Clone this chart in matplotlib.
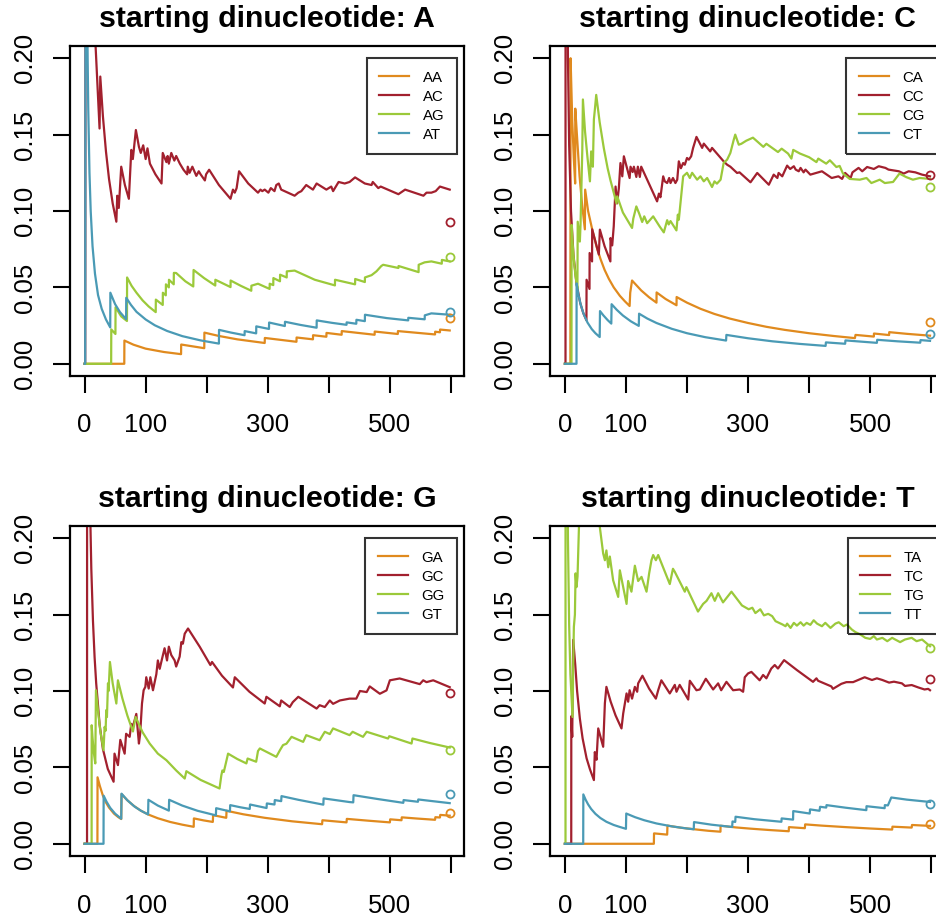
import matplotlib
matplotlib.use("Agg")
import matplotlib.pyplot as plt

plt.rcParams['font.family'] = ['Liberation Sans', 'DejaVu Sans']

# running frequency curves, (position, frequency)
aa = [(0, 0), (65, 0), (65.2, 0.0152), (80, 0.0125), (100, 0.0099), (130, 0.0077), (158, 0.0063),
      (158.2, 0.0126), (196, 0.0102), (196.2, 0.0204), (220, 0.0182), (250, 0.016), (295, 0.0136),
      (295.2, 0.0169), (347, 0.0144), (347.2, 0.0172), (374, 0.016), (374.2, 0.0187), (396, 0.0177),
      (396.2, 0.0202), (421, 0.019), (421.2, 0.0214), (475, 0.019), (475.2, 0.0211), (513, 0.0195),
      (513.2, 0.0214), (574, 0.0192), (574.2, 0.021), (582, 0.0206), (582.2, 0.0224), (598, 0.0218)]
ac = [(0, 0), (1, 0), (2, 0.5), (10, 0.4), (18, 0.208), (24.5, 0.154), (25.7, 0.188), (30, 0.162),
      (35, 0.139), (40, 0.121), (46, 0.105), (52, 0.093), (53.5, 0.11), (56, 0.102), (60, 0.129),
      (66, 0.117), (72.5, 0.108), (74, 0.12), (76.5, 0.14), (79, 0.134), (84, 0.153), (89, 0.142),
      (92, 0.138), (96, 0.143), (100, 0.134), (103, 0.141), (107, 0.131), (116, 0.124), (126, 0.118),
      (128, 0.138), (134, 0.132), (136, 0.136), (138, 0.131), (142, 0.138), (147, 0.133), (150, 0.136),
      (156, 0.131), (162, 0.127), (168, 0.124), (169, 0.129), (172, 0.125), (176.5, 0.129), (183, 0.123),
      (187, 0.126), (190, 0.124), (197, 0.12), (199, 0.124), (204, 0.127), (220, 0.117), (239, 0.108),
      (243, 0.114), (246, 0.112), (249, 0.115), (253, 0.126), (268, 0.118), (284, 0.112), (288, 0.114),
      (291, 0.113), (295, 0.114), (301, 0.112), (305, 0.115), (311, 0.113), (314, 0.117), (318, 0.118),
      (322, 0.114), (344, 0.11), (350, 0.112), (355, 0.113), (363, 0.117), (374, 0.114), (380, 0.118),
      (396, 0.114), (404, 0.116), (407, 0.113), (416, 0.119), (426, 0.118), (434, 0.119), (443, 0.122),
      (459, 0.118), (470, 0.117), (472, 0.119), (481, 0.115), (485, 0.116), (514, 0.111), (525, 0.114),
      (555, 0.11), (560, 0.112), (568, 0.112), (575, 0.113), (582, 0.116), (598, 0.114)]
ag = [(0, 0), (43.5, 0), (43.7, 0.0225), (50.5, 0.0195), (50.7, 0.037), (60, 0.031), (69.4, 0.028),
      (69.6, 0.0565), (77, 0.051), (85, 0.0465), (95, 0.0415), (105, 0.0375), (116.5, 0.0338),
      (116.7, 0.042), (128, 0.0385), (128.2, 0.0465), (133, 0.0448), (133.2, 0.052), (138, 0.05),
      (138.2, 0.055), (146, 0.052), (146.2, 0.0595), (150, 0.0594), (165, 0.054), (178, 0.0506),
      (178.5, 0.0614), (196, 0.056), (214, 0.0512), (214.2, 0.055), (239, 0.0502), (239.2, 0.0545),
      (256, 0.051), (273, 0.0478), (273.2, 0.0511), (284, 0.0524), (303, 0.049), (303.2, 0.0524),
      (309, 0.0515), (309.2, 0.0561), (320, 0.054), (320.2, 0.0583), (331, 0.0565), (331.2, 0.0605),
      (344, 0.061), (377, 0.055), (410, 0.0513), (410.2, 0.055), (443, 0.052), (443.2, 0.0555),
      (459, 0.0535), (459.2, 0.0565), (470, 0.058), (478, 0.0605), (486, 0.064), (489, 0.0648),
      (514, 0.0627), (514.2, 0.064), (547, 0.06), (547.2, 0.0648), (557, 0.0664), (568, 0.067),
      (585, 0.0655), (585.2, 0.068), (598, 0.067)]
at = [(0, 0), (1, 0), (2, 0.5), (3, 0.333), (4, 0.25), (5, 0.2), (6, 0.167), (8, 0.125), (10, 0.1),
      (13, 0.077), (17, 0.059), (22, 0.045), (28, 0.036), (35, 0.029), (42, 0.0238), (42.2, 0.0465),
      (50, 0.039), (58, 0.0338), (68, 0.0292), (68.2, 0.0432), (76, 0.0385), (85, 0.034), (100, 0.029),
      (115, 0.0252), (135, 0.0215), (160, 0.0181), (190, 0.0153), (220, 0.0132), (220.2, 0.0222),
      (240, 0.0204), (262, 0.0187), (262.2, 0.0214), (281, 0.0199), (281.2, 0.0245), (302, 0.0228),
      (302.2, 0.027), (328, 0.0247), (328.2, 0.0275), (354, 0.0254), (380, 0.0236), (380.2, 0.0284),
      (405, 0.0268), (429, 0.0255), (429.2, 0.0271), (445, 0.0262), (445.2, 0.0288), (459, 0.0279),
      (459.2, 0.0321), (495, 0.0299), (530, 0.0284), (530.2, 0.0301), (557, 0.0291), (557.2, 0.0317),
      (568, 0.033), (598, 0.0321)]

ca = [(0, 0), (9, 0), (9.3, 0.2), (12, 0.16), (14.5, 0.135), (16.8, 0.118), (17, 0.167), (20, 0.148),
      (24, 0.123), (28, 0.105), (32.7, 0.088), (33.2, 0.114), (38, 0.1), (44.7, 0.088), (52, 0.0765),
      (58.4, 0.0685), (65, 0.0615), (72, 0.0556), (80, 0.05), (90, 0.0445), (98, 0.041), (106, 0.0378),
      (107, 0.0465), (110, 0.0545), (125, 0.048), (138, 0.0435), (150, 0.04), (150.2, 0.0467),
      (165, 0.0424), (182.8, 0.0383), (183, 0.0437), (200, 0.04), (222, 0.036), (245, 0.0326),
      (270, 0.0296), (300, 0.0267), (330, 0.0242), (360, 0.0222), (400, 0.02), (440, 0.0182),
      (475, 0.0168), (476, 0.0189), (506, 0.0178), (506.2, 0.0198), (531, 0.0188), (531.2, 0.0207),
      (560, 0.0196), (598, 0.0184)]
cc = [(0, 0), (1, 0), (1.2, 0.8), (3, 0.333), (5, 0.2), (7, 0.143), (10, 0.1), (14, 0.0714),
      (19, 0.0526), (25, 0.04), (30, 0.0333), (35.3, 0.0285), (35.5, 0.055), (40.3, 0.049),
      (40.5, 0.0725), (44.5, 0.067), (44.7, 0.088), (50, 0.08), (55.6, 0.0715), (57.3, 0.0878),
      (65, 0.077), (74.5, 0.067), (74.7, 0.0823), (77.5, 0.0775), (80, 0.09), (83, 0.116),
      (85.6, 0.105), (88.4, 0.115), (91, 0.1314), (94, 0.1227), (96.6, 0.1358), (106, 0.1216),
      (107.5, 0.129), (111, 0.1255), (113, 0.129), (117, 0.1223), (119.5, 0.129), (122.7, 0.1223),
      (125, 0.129), (151, 0.1063), (154, 0.1114), (156.5, 0.109), (161, 0.1227), (163.6, 0.1194),
      (167.5, 0.1183), (170.8, 0.1216), (173, 0.1183), (177, 0.1216), (181, 0.1183), (184, 0.1205),
      (186.6, 0.1325), (190, 0.128), (193.7, 0.1314), (196.4, 0.1303), (200, 0.1347), (203, 0.1336),
      (206.8, 0.1358), (210, 0.1413), (215.5, 0.1485), (224.8, 0.1413), (227.5, 0.1441), (238, 0.139),
      (241, 0.1413), (260, 0.1325), (265.7, 0.1303), (271, 0.129), (282, 0.1249), (286, 0.1253),
      (304, 0.1188), (315, 0.1249), (334, 0.1172), (342, 0.1238), (348, 0.1216), (350, 0.1249),
      (356, 0.1227), (364, 0.1297), (369, 0.1275), (375, 0.1293), (378, 0.1271), (383, 0.126),
      (386, 0.1282), (391, 0.1253), (394, 0.1271), (402, 0.1238), (421, 0.126), (437, 0.1216),
      (448, 0.1227), (454, 0.121), (459, 0.1249), (468, 0.1216), (471, 0.1253), (481, 0.1282),
      (487, 0.126), (495, 0.1288), (506, 0.1275), (514, 0.1293), (525, 0.1282), (530, 0.1271),
      (547, 0.126), (555, 0.1245), (563, 0.126), (574, 0.1253), (585, 0.1238), (598, 0.1227)]
cg = [(0, 0), (10.8, 0), (11, 0.0909), (13, 0.077), (15, 0.0667), (17.5, 0.057), (20.5, 0.049),
      (21, 0.093), (24.5, 0.08), (25.6, 0.091), (28.5, 0.14), (29.5, 0.173), (33, 0.152), (37, 0.135),
      (41, 0.1194), (43, 0.139), (45.8, 0.129), (47.5, 0.16), (49, 0.166), (51.3, 0.176), (57, 0.158),
      (63.8, 0.141), (70, 0.128), (74.7, 0.12), (80, 0.112), (84.6, 0.105), (85.7, 0.1096), (95, 0.099),
      (110, 0.0889), (112, 0.095), (117, 0.103), (122, 0.098), (126.6, 0.0928), (130, 0.0965),
      (134.7, 0.092), (144.6, 0.0965), (155, 0.09), (162, 0.086), (167.5, 0.094), (170, 0.0912),
      (173, 0.0934), (182.7, 0.0873), (185, 0.0976), (186.6, 0.0943), (193.7, 0.1227), (200, 0.125),
      (204.6, 0.1216), (208.4, 0.125), (216.6, 0.1205), (222, 0.1227), (227.5, 0.1194), (233, 0.1216),
      (241, 0.1157), (245, 0.1194), (249, 0.1179), (255, 0.1205), (260, 0.1314), (265.7, 0.1336),
      (271, 0.138), (276.6, 0.1467), (279, 0.15), (284.8, 0.1434), (289, 0.144), (297, 0.146),
      (308, 0.148), (325, 0.142), (330, 0.144), (349, 0.1386), (355, 0.1408), (365.5, 0.1376),
      (371, 0.1343), (374, 0.14), (385, 0.1376), (400, 0.1352), (412, 0.132), (415, 0.1343),
      (428, 0.131), (434, 0.1332), (444.6, 0.1288), (450, 0.1295), (455.5, 0.1245), (466.5, 0.121),
      (483, 0.1205), (494, 0.1216), (502, 0.1183), (515.6, 0.1205), (524, 0.1183), (537.5, 0.119),
      (548, 0.1245), (559, 0.1222), (570, 0.1205), (581, 0.1216), (598, 0.121)]
ct = [(0, 0), (19, 0), (19.2, 0.0526), (22, 0.0455), (26, 0.0385), (31, 0.0323), (37, 0.027),
      (44, 0.0227), (50, 0.02), (57, 0.0175), (57.5, 0.0345), (63, 0.0317), (70, 0.0286), (76, 0.0263),
      (76.5, 0.039), (85, 0.0353), (95, 0.0316), (108, 0.0278), (121, 0.0248), (121.5, 0.0328),
      (135, 0.0296), (150, 0.0267), (175, 0.0229), (200, 0.02), (230, 0.0174), (264, 0.0152),
      (264.5, 0.0189), (300, 0.0167), (340, 0.0147), (385, 0.013), (427, 0.0117), (427.5, 0.014),
      (459, 0.0131), (459.5, 0.0153), (485, 0.0145), (511, 0.0137), (511.5, 0.0157), (545, 0.0147),
      (582, 0.0138), (582.5, 0.0155), (598, 0.015)]

ga = [(0, 0), (21, 0), (21.2, 0.0435), (25, 0.0378), (30, 0.0315), (35, 0.027), (40, 0.0237),
      (48, 0.0198), (55, 0.0175), (60, 0.0162), (60.5, 0.0325), (70, 0.0285), (80, 0.025), (92, 0.0217),
      (104, 0.0192), (120, 0.0167), (140, 0.0143), (160, 0.0125), (178.7, 0.0111), (179, 0.0166),
      (195, 0.0153), (210, 0.0143), (210.5, 0.0187), (222, 0.0178), (232, 0.017), (232.5, 0.0216),
      (260, 0.0193), (295, 0.017), (340, 0.0147), (389, 0.0128), (389.5, 0.0154), (429, 0.014),
      (429.5, 0.0163), (465, 0.0151), (500, 0.014), (500.5, 0.016), (519, 0.0154), (519.5, 0.0173),
      (545, 0.0165), (574, 0.0157), (574.5, 0.0174), (582, 0.0172), (582.5, 0.0189), (598, 0.0184)]
gc = [(0, 0), (4, 0), (4.2, 0.5), (7, 0.286), (9.6, 0.208), (11, 0.18), (13.7, 0.146), (16.4, 0.122),
      (19, 0.105), (24.6, 0.078), (30, 0.062), (38, 0.049), (47.5, 0.0406), (49, 0.059), (54.6, 0.0515),
      (58.5, 0.068), (65.6, 0.059), (68, 0.072), (73.8, 0.07), (76.5, 0.0785), (79, 0.0765), (84.7, 0.085),
      (89, 0.0656), (91, 0.072), (94, 0.0918), (96.7, 0.1005), (99.5, 0.1027), (101, 0.109), (105, 0.1016),
      (107.7, 0.109), (112, 0.1005), (117.5, 0.111), (120, 0.12), (123, 0.1145), (126.8, 0.121),
      (131, 0.128), (135, 0.12), (138, 0.129), (142, 0.1235), (147.5, 0.12), (150, 0.116),
      (155.7, 0.1225), (158.5, 0.132), (161, 0.131), (164, 0.1375), (169.4, 0.1409), (188.5, 0.129),
      (206, 0.117), (208.7, 0.119), (225, 0.11), (243, 0.1023), (246, 0.109), (270, 0.0995),
      (295, 0.0918), (297.8, 0.0962), (319.7, 0.09), (322, 0.0938), (336, 0.0895), (341, 0.0927),
      (350, 0.0962), (380, 0.0885), (385, 0.0907), (393.4, 0.0895), (401.6, 0.0938), (407, 0.0916),
      (418, 0.0938), (434, 0.095), (445, 0.095), (451, 0.1), (462, 0.0993), (467, 0.103),
      (483.6, 0.0982), (494.5, 0.1004), (500, 0.107), (516, 0.1082), (549, 0.1045), (554.6, 0.107),
      (560, 0.1058), (571, 0.107), (598, 0.1025)]
gg = [(0, 0), (11.5, 0), (11.6, 0.0776), (13, 0.0695), (15, 0.06), (17.5, 0.0526), (18.6, 0.1005),
      (22, 0.087), (26, 0.073), (31, 0.0613), (32.8, 0.0765), (34.4, 0.074), (35.5, 0.0875),
      (36.6, 0.083), (38.3, 0.105), (39.3, 0.1), (41.5, 0.119), (46, 0.105), (52, 0.0918), (54.6, 0.107),
      (62, 0.095), (70, 0.084), (76.5, 0.0765), (79.2, 0.0735), (83.6, 0.083), (95, 0.073),
      (106.6, 0.0656), (120, 0.059), (134, 0.0547), (150, 0.048), (164, 0.0427), (166.7, 0.0475),
      (190, 0.0418), (221, 0.0362), (224, 0.0449), (225.7, 0.048), (228, 0.047), (235, 0.059),
      (250, 0.0555), (265, 0.0526), (267, 0.0558), (281, 0.0537), (284, 0.0607), (287, 0.0624),
      (314, 0.0569), (320, 0.0613), (325, 0.0646), (330.6, 0.0655), (339, 0.07), (358, 0.0667),
      (363, 0.0711), (385, 0.0678), (393.4, 0.0733), (401.6, 0.0718), (407, 0.0755), (434, 0.0711),
      (439, 0.0733), (456, 0.07), (462, 0.0733), (497, 0.0689), (499, 0.0704), (535.5, 0.0656),
      (537, 0.0689), (565, 0.066), (598, 0.063)]
gt = [(0, 0), (31, 0), (31.2, 0.0315), (36, 0.0275), (42, 0.0235), (50, 0.0197), (60, 0.0164),
      (60.5, 0.0328), (70, 0.0285), (82, 0.0243), (92, 0.0217), (104, 0.0192), (104.5, 0.0288),
      (120, 0.025), (138, 0.0217), (138.5, 0.0288), (160, 0.025), (185, 0.0216), (215, 0.0186),
      (215.5, 0.0233), (238, 0.0212), (238.5, 0.0253), (255, 0.0239), (270.5, 0.0228), (271, 0.0257),
      (298, 0.0234), (298.5, 0.0264), (311, 0.0257), (311.5, 0.0286), (322, 0.0279), (322.5, 0.0312),
      (350, 0.0288), (391, 0.0256), (391.5, 0.0297), (434, 0.0273), (440, 0.0271), (440.5, 0.0318),
      (480, 0.0293), (522, 0.0268), (522.5, 0.0286), (546, 0.0275), (546.5, 0.029), (570, 0.0279),
      (598, 0.0266)]

ta = [(0, 0), (145.7, 0), (146, 0.0068), (167.5, 0.006), (168, 0.0119), (190, 0.0105), (214, 0.0094),
      (235, 0.0085), (254.8, 0.0079), (255, 0.0118), (280, 0.0107), (304, 0.0099), (335, 0.009),
      (366.6, 0.0082), (367, 0.0109), (393, 0.0102), (393.5, 0.0127), (420, 0.0119), (460, 0.0109),
      (500, 0.01), (536, 0.0093), (536.5, 0.0112), (568, 0.0106), (568.5, 0.0123), (598, 0.0117)]
tc = [(0, 0), (10.4, 0), (10.5, 0.0835), (12, 0.07), (13.6, 0.1335), (17, 0.117), (20, 0.1),
      (24.5, 0.082), (29, 0.069), (35.5, 0.056), (41, 0.0488), (47.5, 0.0417), (49, 0.06), (51.8, 0.055),
      (54.6, 0.0755), (62.7, 0.0635), (65.5, 0.092), (68, 0.1027), (75, 0.093), (83, 0.084),
      (92.7, 0.0755), (95.5, 0.0853), (101, 0.0984), (103.6, 0.093), (106, 0.1005), (110, 0.095),
      (114.6, 0.1027), (118.4, 0.0995), (120, 0.105), (127, 0.11), (138, 0.1015), (149, 0.095),
      (152.8, 0.1005), (158, 0.107), (171.8, 0.0984), (180, 0.104), (182.8, 0.0995), (188, 0.104),
      (202, 0.0944), (204.6, 0.1067), (215.5, 0.1005), (221, 0.101), (230.8, 0.108), (242.8, 0.101),
      (251, 0.105), (256, 0.1005), (264.6, 0.106), (275.5, 0.1005), (286.4, 0.101), (291.9, 0.0995),
      (294.6, 0.109), (300, 0.1115), (305.5, 0.1125), (319, 0.107), (324.6, 0.1105), (330, 0.1083),
      (338, 0.1147), (343.7, 0.117), (349, 0.1147), (359, 0.1202), (380, 0.1137), (406.4, 0.106),
      (412, 0.1083), (414.7, 0.1067), (436.4, 0.103), (439, 0.1014), (452.8, 0.1047), (461, 0.1058),
      (472, 0.1058), (491, 0.109), (503, 0.1072), (511, 0.1083), (520, 0.1072), (531, 0.1055),
      (539, 0.1061), (552, 0.105), (557, 0.1033), (568, 0.1039), (579, 0.1023), (589, 0.101),
      (595, 0.1014), (598, 0.1005)]
tg = [(0, 0), (1, 0), (1.2, 1.0), (3, 0.333), (5, 0.2), (7, 0.143), (9, 0.111), (12.5, 0.083),
      (13.6, 0.116), (14.7, 0.142), (16.4, 0.15), (17.5, 0.177), (19, 0.168), (20.7, 0.175),
      (23, 0.207), (24.5, 0.25), (40, 0.3), (57, 0.208), (62.7, 0.19), (65.5, 0.1856), (68, 0.192),
      (71, 0.181), (73.6, 0.188), (79, 0.1725), (87.3, 0.1616), (90, 0.179), (95.5, 0.168), (101, 0.157),
      (103.6, 0.172), (109, 0.165), (114.6, 0.182), (120, 0.172), (125.5, 0.1747), (133.7, 0.165),
      (138, 0.177), (141.8, 0.1856), (144.6, 0.189), (149, 0.1856), (152.8, 0.189), (171.8, 0.17),
      (177, 0.18), (180, 0.178), (196.4, 0.165), (199, 0.168), (218, 0.152), (226.4, 0.157),
      (232, 0.159), (240, 0.164), (245.5, 0.159), (251, 0.164), (259, 0.158), (272.8, 0.165),
      (290, 0.156), (301, 0.1535), (307, 0.1545), (312, 0.151), (320, 0.1535), (326, 0.1495),
      (333, 0.1505), (339.5, 0.149), (345, 0.1457), (356.6, 0.1435), (361.4, 0.1424), (364, 0.1441),
      (369.6, 0.1413), (375, 0.1446), (380, 0.1428), (386, 0.145), (391, 0.1428), (396, 0.1446),
      (402, 0.1433), (407.5, 0.1463), (413, 0.1441), (421, 0.1424), (426.5, 0.1446), (435, 0.1413),
      (443, 0.1441), (448.5, 0.145), (456.5, 0.1424), (462, 0.1435), (470, 0.1402), (476, 0.1385),
      (484, 0.137), (492, 0.1348), (500, 0.1341), (506, 0.1359), (511, 0.1337), (520, 0.1348),
      (528, 0.1326), (536, 0.1348), (541, 0.1337), (549, 0.132), (557, 0.1337), (568, 0.1348),
      (576, 0.1326), (585, 0.1337), (598, 0.1293)]
tt = [(0, 0), (30, 0), (30.2, 0.0323), (34, 0.0288), (38, 0.0258), (43, 0.0228), (50, 0.0196),
      (58, 0.0169), (68, 0.0144), (80, 0.0123), (90, 0.011), (100, 0.0098), (100.5, 0.0198),
      (115, 0.0174), (130, 0.0154), (150, 0.0133), (175, 0.0114), (200, 0.01), (211, 0.0095),
      (211.5, 0.0142), (240, 0.0125), (274, 0.011), (274.5, 0.0146), (279, 0.0143), (279.5, 0.0177),
      (310, 0.0161), (354.6, 0.0144), (355, 0.0166), (373.7, 0.0158), (374, 0.0214), (401, 0.0198),
      (401.5, 0.0225), (417, 0.0216), (418, 0.0242), (428, 0.0237), (428.5, 0.0253), (460, 0.0236),
      (493.7, 0.022), (494, 0.0246), (523.7, 0.0233), (524, 0.0253), (529, 0.0251), (534.6, 0.0303),
      (560, 0.0289), (594.6, 0.0275), (598, 0.0274)]

# reference values drawn as open circles at the right edge
end_x = 598
ends_a = [0.0299, 0.0928, 0.0697, 0.0336]
ends_c = [0.0271, 0.1238, 0.116, 0.0197]
ends_g = [0.0203, 0.0984, 0.0617, 0.0323]
ends_t = [0.0131, 0.1077, 0.1282, 0.026]

colors = ['#E08A1E', '#A2202E', '#9BC93A', '#4A9AB5']
xticks = [0, 100, 200, 300, 400, 500, 600]
xlabels = ['0', '100', '', '300', '', '500', '']
yticks = [0, 0.05, 0.10, 0.15, 0.20]

W, H = 936, 922
panels = [
    ('A', [aa, ac, ag, at], ends_a, 70, 46),
    ('C', [ca, cc, cg, ct], ends_c, 550.3, 46),
    ('G', [ga, gc, gg, gt], ends_g, 70, 526),
    ('T', [ta, tc, tg, tt], ends_t, 550.3, 526),
]

fig = plt.figure(figsize=(W / 100, H / 100), dpi=100)
for letter, series, ends, left, top in panels:
    ax = fig.add_axes([left / W, (H - top - 330) / H, 394.3 / W, 330 / H])
    for s, base, c in zip(series, 'ACGT', colors):
        ax.plot([p[0] for p in s], [p[1] for p in s], color=c, lw=1.6, label=letter + base)
    for e, c in zip(ends, colors):
        ax.plot(end_x, e, 'o', mfc='none', mec=c, ms=5.8, mew=1.3)
    ax.set_xlim(-23.9, 621.9)
    ax.set_ylim(-0.008, 0.208)
    ax.set_xticks(xticks)
    ax.set_xticklabels(xlabels)
    ax.set_yticks(yticks)
    ax.set_yticklabels(['%.2f' % v for v in yticks])
    ax.tick_params(axis='both', direction='out', length=12, width=1.5, labelsize=18.5)
    ax.tick_params(axis='x', pad=15)
    ax.tick_params(axis='y', pad=12, labelrotation=90)
    for lab in ax.get_yticklabels():
        lab.set_va('center')
    for sp in ax.spines.values():
        sp.set_linewidth(1.6)
    ax.set_title('starting dinucleotide: ' + letter, fontsize=21.8, fontweight='bold', pad=14)
    leg = ax.legend(loc='upper right', bbox_to_anchor=(1 - 7 / 394.3, 1 - 12 / 330),
                    borderaxespad=0, fontsize=10.8, fancybox=False, edgecolor='black',
                    facecolor='none', handlelength=2.0, handletextpad=0.9,
                    borderpad=0.85, labelspacing=0.33)
    leg.get_frame().set_linewidth(1.5)

fig.savefig('out.png', dpi=100)
